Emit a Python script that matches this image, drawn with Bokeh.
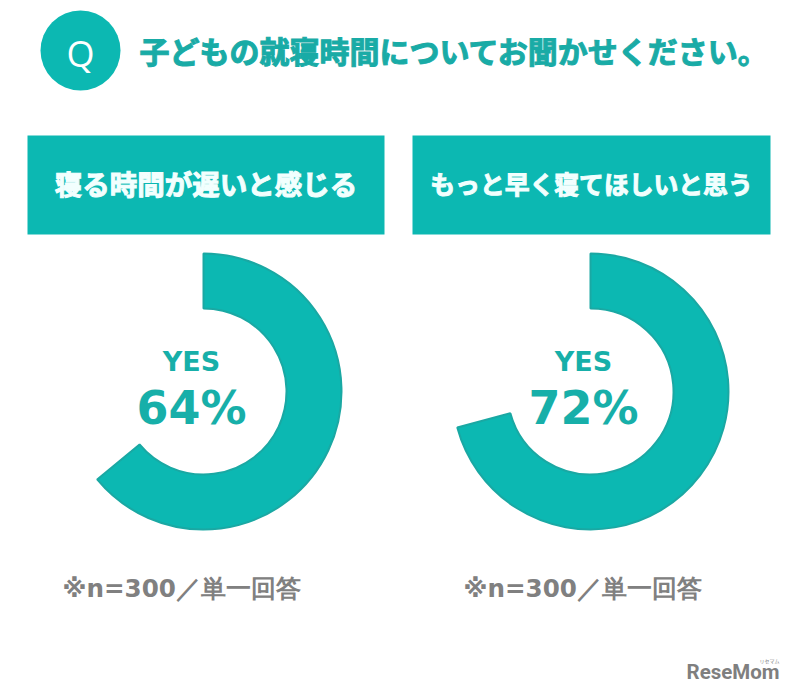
from math import pi
from bokeh.plotting import figure
from bokeh.models import Range1d
from bokeh.core.properties import value
from bokeh.embed import file_html
from bokeh.resources import INLINE

title = "子どもの就寝時間についてお聞かせください。"
headers = ["寝る時間が遅いと感じる", "もっと早く寝てほしいと思う"]
answer_label = "YES"
yes_percent = [64, 72]
drawn_arc_percent = [64, 70.8]
notes = ["※n=300／単一回答", "※n=300／単一回答"]

TEAL = "#0CB8B2"
EDGE = "#1AA8A3"
TEXT = "#19ABA6"
LABEL = "#17AFA9"
GREY = "#808080"
CJK = value("Noto Sans CJK JP")
LATIN = value("DejaVu Sans")

W, H = 784, 684
def Y(v):
    return H - v

p = figure(width=W, height=H, output_backend="svg", toolbar_location=None,
           x_range=Range1d(0, W), y_range=Range1d(0, H), min_border=0,
           background_fill_color="white", outline_line_color=None)
p.axis.visible = False
p.grid.visible = False

# Question badge and title
p.circle(x=[80], y=[Y(50)], radius=40, fill_color=TEAL, line_color=None)
p.text(x=[80], y=[Y(53)], text=["Q"], text_font=value("Open Sans"), text_font_size="36px",
       text_color="white", text_align="center", text_baseline="middle")
p.text(x=[139], y=[Y(49)], text=[title], text_font=CJK, text_font_style="bold",
       text_font_size="30px", text_color=TEXT, text_outline_color=TEXT,
       text_align="left", text_baseline="middle")

# Panels
box_x = [205.5, 591]
box_w = [357, 358]
ring_x = [203, 590]
label_x = [191, 583]
note_x = [62, 463]
head_size = ["27.5px", "24.8px"]

for i in range(2):
    p.rect(x=[box_x[i]], y=[Y(184.5)], width=box_w[i], height=99, fill_color=TEAL, line_color=None)
    p.text(x=[box_x[i]], y=[Y(182)], text=[headers[i]], text_font=CJK, text_font_style="bold",
           text_font_size=head_size[i], text_color="#F2FFFE", text_outline_color="#F2FFFE",
           text_align="center", text_baseline="middle")
    end = pi / 2 - 2 * pi * drawn_arc_percent[i] / 100
    p.annular_wedge(x=[ring_x[i]], y=[Y(391)], inner_radius=83, outer_radius=138,
                    start_angle=pi / 2, end_angle=end, direction="clock",
                    fill_color=TEAL, line_color=EDGE, line_width=2)
    p.text(x=[label_x[i]], y=[Y(361)], text=[answer_label], text_font=LATIN, text_font_style="bold",
           text_font_size="27px", text_color=LABEL, text_align="center", text_baseline="middle")
    p.text(x=[label_x[i]], y=[Y(407)], text=[f"{yes_percent[i]}%"], text_font=LATIN, text_font_style="bold",
           text_font_size="46px", text_color=LABEL, text_align="center", text_baseline="middle")
    p.text(x=[note_x[i]], y=[Y(588)], text=[notes[i]], text_font=LATIN, text_font_style="bold",
           text_font_size="24.6px", text_color=GREY, text_align="left", text_baseline="middle")

# Watermark
p.text(x=[686], y=[Y(671)], text=["ReseMom"], text_font=value("Roboto"), text_font_style="bold",
       text_font_size="20.5px", text_color="#7F7F7F", text_align="left", text_baseline="middle")
p.text(x=[769], y=[Y(660)], text=["リセマム"], text_font=CJK,
       text_font_size="5px", text_color="#7F7F7F", text_align="center", text_baseline="middle")

open("out.html", "w").write(file_html(p, INLINE))
